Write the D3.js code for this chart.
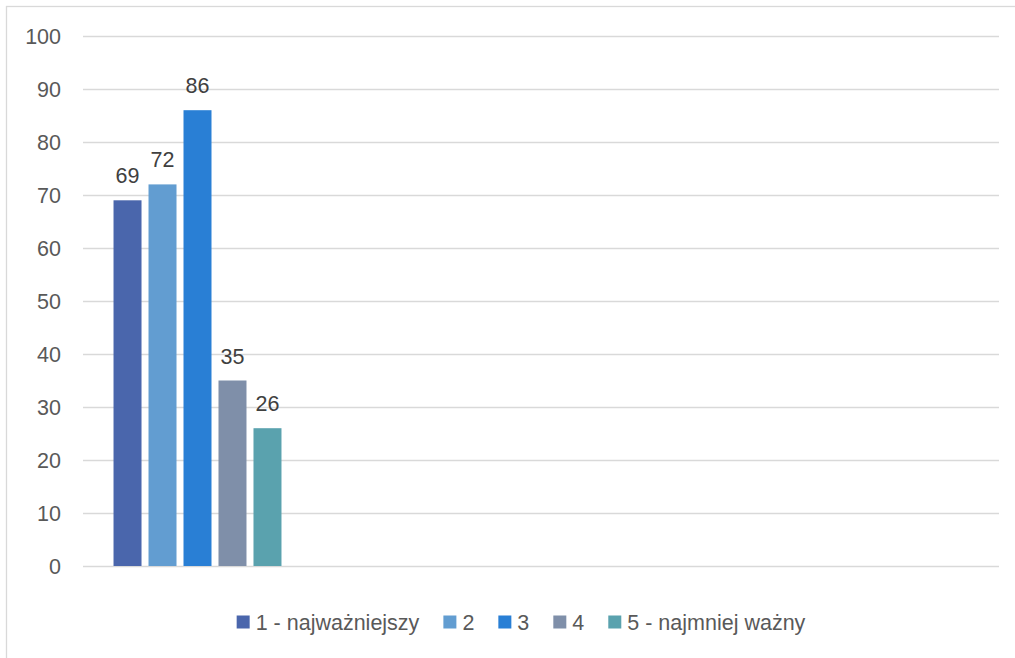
<!DOCTYPE html>
<html>
<head>
<meta charset="utf-8">
<script src="https://cdn.jsdelivr.net/npm/d3@7"></script>
<style>
  html, body { margin: 0; padding: 0; background: #ffffff; }
  svg { display: block; }
  text { font-family: "Liberation Sans", Arial, sans-serif; }
</style>
</head>
<body>
<svg id="chart" width="1015" height="658"></svg>
<script>
// ---- data ----
const categories = ["k1", "k2", "k3", "k4"];          // only the first holds values
const series = ["1 - najważniejszy", "2", "3", "4", "5 - najmniej ważny"];
const values = [69, 72, 86, 35, 26];                    // for the first category
const colors = ["#4A66AC", "#629DD1", "#297FD5", "#7F8FA9", "#5AA2AE"];
const yTicks = [0, 10, 20, 30, 40, 50, 60, 70, 80, 90, 100];

// ---- layout ----
const W = 1015, H = 658;
const plot = { left: 83, right: 999, top: 36, bottom: 566 };
const fontSize = 21.5;

const svg = d3.select("#chart");

// chart area border (extends beyond the window on right/bottom)
svg.append("rect")
  .attr("x", 6.5).attr("y", 6.5)
  .attr("width", W + 20).attr("height", H + 20)
  .attr("fill", "#ffffff")
  .attr("stroke", "#d9d9d9").attr("stroke-width", 1.3);

const y = d3.scaleLinear().domain([0, 100]).range([plot.bottom, plot.top]);

const x0 = d3.scaleBand().domain(categories)
  .range([plot.left, plot.right])
  .paddingInner(0.236).paddingOuter(0.118);

const x1 = d3.scaleBand().domain(series)
  .range([0, x0.bandwidth()])
  .paddingInner(0.2).paddingOuter(0.1);

// gridlines
svg.append("g").selectAll("line").data(yTicks).join("line")
  .attr("x1", plot.left).attr("x2", plot.right)
  .attr("y1", d => Math.round(y(d)) + 0.5).attr("y2", d => Math.round(y(d)) + 0.5)
  .attr("stroke", "#d9d9d9").attr("stroke-width", 1.5);

// y-axis labels
const yAxis = d3.axisLeft(y).tickValues(yTicks).tickSize(0).tickPadding(0);
const gy = svg.append("g").attr("transform", `translate(61,0)`).call(yAxis);
gy.select(".domain").remove();
gy.selectAll("text")
  .attr("font-size", fontSize)
  .attr("font-family", "Liberation Sans, Arial, sans-serif")
  .attr("fill", "#595959")
  .attr("dy", "0.36em");

// bars
const barData = series.map((s, i) => ({ s, v: values[i], c: colors[i], cat: categories[0] }));
const gb = svg.append("g");
gb.selectAll("rect").data(barData).join("rect")
  .attr("x", d => x0(d.cat) + x1(d.s))
  .attr("width", x1.bandwidth())
  .attr("y", d => y(d.v))
  .attr("height", d => y(0) - y(d.v))
  .attr("fill", d => d.c);

// data labels
gb.selectAll("text").data(barData).join("text")
  .attr("x", d => x0(d.cat) + x1(d.s) + x1.bandwidth() / 2)
  .attr("y", d => y(d.v) - 17)
  .attr("text-anchor", "middle")
  .attr("font-size", fontSize)
  .attr("fill", "#404040")
  .text(d => d.v);

// legend
const legend = svg.append("g");
const markerSize = 13, markerGap = 6, itemGap = 24;
const items = legend.selectAll("g").data(barData).join("g");
items.append("rect")
  .attr("width", markerSize).attr("height", markerSize)
  .attr("y", -markerSize / 2)
  .attr("fill", d => d.c);
items.append("text")
  .attr("x", markerSize + markerGap)
  .attr("dy", "0.36em")
  .attr("font-size", fontSize)
  .attr("fill", "#595959")
  .text(d => d.s);

let cx = 0;
const widths = [];
items.each(function () {
  const tw = d3.select(this).select("text").node().getComputedTextLength();
  widths.push(markerSize + markerGap + tw);
});
const total = d3.sum(widths) + itemGap * (widths.length - 1);
const legendCenter = 521;
let startX = legendCenter - total / 2;
items.attr("transform", (d, i) => {
  const t = `translate(${startX + cx},622)`;
  cx += widths[i] + itemGap;
  return t;
});
</script>
</body>
</html>
